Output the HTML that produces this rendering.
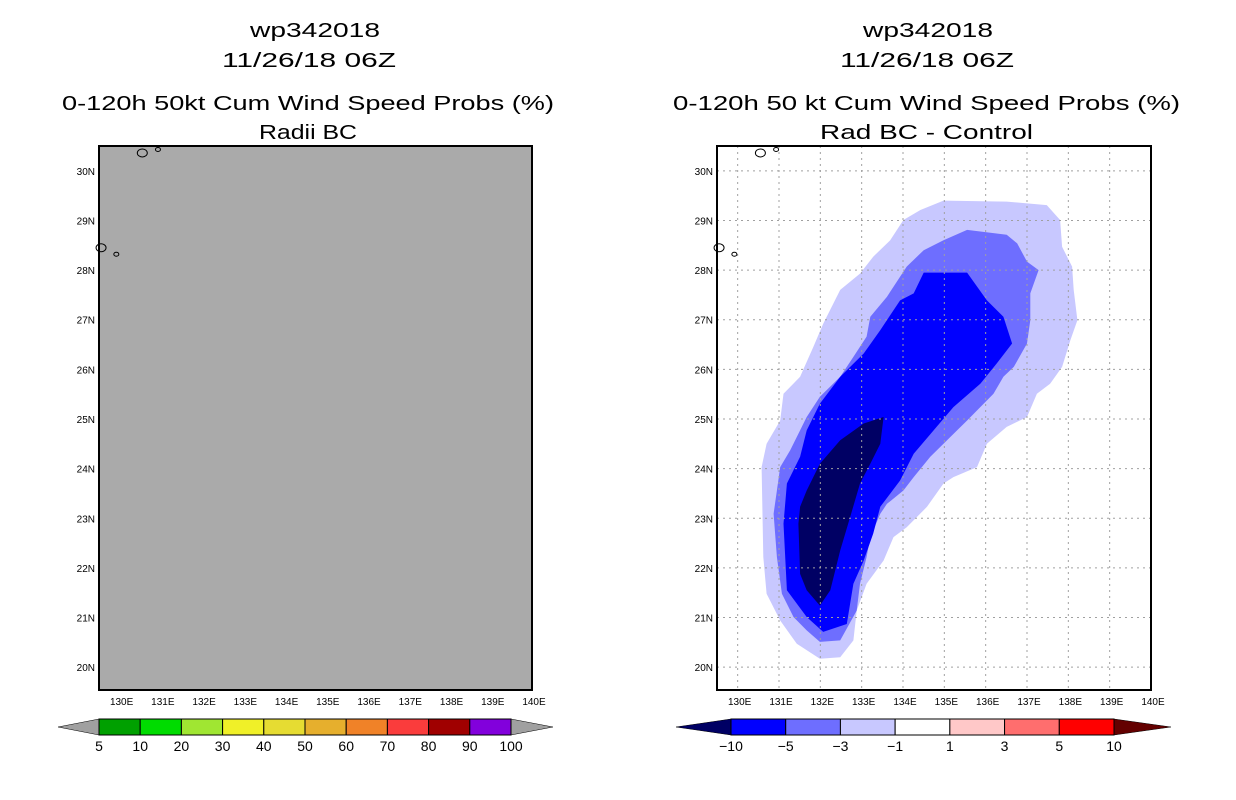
<!DOCTYPE html>
<html><head><meta charset="utf-8">
<style>
html,body{margin:0;padding:0;background:#fff;}
svg{display:block;font-family:"Liberation Sans",sans-serif;}
</style></head>
<body>
<svg id="fig" width="1236" height="800" viewBox="0 0 1236 800" xmlns="http://www.w3.org/2000/svg">
  <rect width="1236" height="800" fill="#fff"/>
  <g font-size="20" fill="#000" lengthAdjust="spacingAndGlyphs">
    <text x="250" y="37" textLength="130" lengthAdjust="spacingAndGlyphs">wp342018</text>
    <text x="222" y="67" textLength="174" lengthAdjust="spacingAndGlyphs">11/26/18 06Z</text>
    <text x="62" y="110" textLength="492" lengthAdjust="spacingAndGlyphs">0-120h 50kt Cum Wind Speed Probs (%)</text>
    <text x="259" y="139" textLength="98" lengthAdjust="spacingAndGlyphs">Radii BC</text>
  </g>
  <g font-size="20" fill="#000">
    <text x="863" y="37" textLength="130" lengthAdjust="spacingAndGlyphs">wp342018</text>
    <text x="840" y="67" textLength="174" lengthAdjust="spacingAndGlyphs">11/26/18 06Z</text>
    <text x="673" y="110" textLength="507" lengthAdjust="spacingAndGlyphs">0-120h 50 kt Cum Wind Speed Probs (%)</text>
    <text x="820" y="139" textLength="213" lengthAdjust="spacingAndGlyphs">Rad BC - Control</text>
  </g>
  <g id="left"></g>
  <g id="right"></g>
  <g id="cbars"></g>
</svg>
<script>
const NS="http://www.w3.org/2000/svg";
const lonTicks=[130,131,132,133,134,135,136,137,138,139,140];
const latTicks=[20,21,22,23,24,25,26,27,28,29,30];
const leftBarLabels=["5","10","20","30","40","50","60","70","80","90","100"];
const leftBarColors=["#00a000","#00dc00","#a0e632","#f0f028","#e6dc32","#e6af2d","#f08228","#fa3c3c","#a00000","#8200dc"];
const rightBarLabels=["-10","-5","-3","-1","1","3","5","10"];
const rightBarColors=["#0000ff","#6e6eff","#c8c8ff","#ffffff","#ffc8c8","#ff6e6e","#ff0000"];
const c1Lon=[134.98,136.51,137.48,137.80,137.85,138.09,138.13,138.22,138.05,137.85,137.56,137.24,137.00,136.51,136.03,135.79,135.22,134.98,134.58,134.09,133.77,133.53,133.12,132.88,132.80,132.48,131.99,131.43,131.03,130.70,130.62,130.58,130.70,131.03,131.11,131.51,131.83,132.07,132.48,132.96,133.28,133.69,134.01,134.42];
const c1Lat=[29.40,29.38,29.31,29.01,28.47,28.07,27.60,26.99,26.59,26.05,25.71,25.51,25.04,24.84,24.50,24.03,23.83,23.70,23.23,22.82,22.62,22.15,21.68,21.14,20.54,20.20,20.17,20.47,20.94,21.48,22.22,24.03,24.50,24.97,25.51,25.85,26.45,26.92,27.60,27.93,28.27,28.60,29.01,29.21];
const c3Lon=[135.55,136.51,136.76,137.00,137.28,137.08,137.08,137.00,136.68,136.43,136.19,135.87,135.55,134.98,134.66,134.26,134.01,133.61,133.45,133.21,133.12,132.96,132.88,132.48,131.99,131.67,131.35,131.07,130.95,130.87,131.03,131.27,131.67,131.99,132.48,132.80,133.12,133.21,133.61,134.09,134.50,134.98];
const c3Lat=[28.81,28.71,28.54,28.17,28.00,27.53,26.99,26.52,26.05,25.85,25.51,25.24,24.97,24.50,24.24,23.83,23.56,23.29,23.09,22.62,22.22,21.68,21.14,20.54,20.51,20.74,21.01,21.48,22.22,23.09,24.03,24.37,25.04,25.45,25.85,26.25,26.66,27.06,27.46,28.07,28.40,28.60];
const c5Lon=[134.50,135.55,136.03,136.43,136.64,136.27,135.87,135.22,134.74,134.26,133.93,133.45,133.28,133.05,132.80,132.64,132.07,131.67,131.19,131.11,131.19,131.51,131.67,131.99,132.48,133.05,133.45,133.93,134.26];
const c5Lat=[27.95,27.95,27.39,27.06,26.52,26.12,25.71,25.24,24.77,24.30,23.76,23.23,22.69,22.15,21.68,20.87,20.71,21.01,21.55,22.89,23.70,24.24,24.77,25.31,25.85,26.32,26.79,27.39,27.53];
const c10Lon=[133.53,133.45,133.21,132.96,132.72,132.48,132.24,131.99,131.67,131.51,131.47,131.51,131.67,131.99,132.48,133.05];
const c10Lat=[25.04,24.50,24.10,23.70,23.02,22.35,21.55,21.24,21.55,21.88,22.89,23.23,23.56,24.10,24.57,24.91];
const islandLon=[130.55,130.93,129.55,129.92];
const islandLat=[30.36,30.43,28.45,28.32];

function el(tag,attrs,parent){const e=document.createElementNS(NS,tag);for(const k in attrs)e.setAttribute(k,attrs[k]);parent.appendChild(e);return e;}
const LON0=129.5,LON1=140,LAT0=19.54,LAT1=30.5,T=146,B=690;
function mkAxis(L,R){return{x:lon=>L+(lon-LON0)/(LON1-LON0)*(R-L),y:lat=>T+(LAT1-lat)/(LAT1-LAT0)*(B-T)};}

function drawMap(g,L,R,isRight){
  const ax=mkAxis(L,R);
  const bg=el('rect',{x:L,y:T,width:R-L,height:B-T,fill:isRight?'#fff':'#aaaaaa'},g);
  
  
  if(isRight){
    const polys=[[c1Lon,c1Lat,'#c8c8ff','contour-minus1'],[c3Lon,c3Lat,'#6e6eff','contour-minus3'],[c5Lon,c5Lat,'#0000ff','contour-minus5'],[c10Lon,c10Lat,'#000064','contour-minus10']];
    polys.forEach(p=>{
      const pts=p[0].map((lo,i)=>ax.x(lo).toFixed(1)+','+ax.y(p[1][i]).toFixed(1)).join(' ');
      const pg=el('polygon',{points:pts,fill:p[2]},g);
      
      
    });
    lonTicks.forEach(lo=>{if(lo>=140)return;const l=el('line',{x1:ax.x(lo),x2:ax.x(lo),y1:T,y2:B,stroke:'#a0a0a0','stroke-dasharray':'2,4'},g);
      
      });
    latTicks.forEach(la=>{const l=el('line',{x1:L,x2:R,y1:ax.y(la),y2:ax.y(la),stroke:'#a0a0a0','stroke-dasharray':'2,4'},g);
      
      });
  }
  islandLon.forEach((lo,i)=>{const r=i%2===0?5:2.5;const e=el('ellipse',{cx:ax.x(lo),cy:ax.y(islandLat[i]),rx:r,ry:r*0.8,fill:'none',stroke:'#000','stroke-width':1},g);
    
    });
  const fr=el('rect',{x:L,y:T,width:R-L,height:B-T,fill:'none',stroke:'#000','stroke-width':2},g);
  
  
  lonTicks.forEach(lo=>{const t=el('text',{x:ax.x(lo)+2,y:705,'font-size':10,'text-anchor':'middle'},g);t.textContent=lo+'E';
    
    });
  latTicks.forEach(la=>{const t=el('text',{x:L-4,y:ax.y(la)+4,'font-size':10,'text-anchor':'end'},g);t.textContent=la+'N';
    
    });
}
drawMap(document.getElementById('left'),99,532,false);
drawMap(document.getElementById('right'),717,1151,true);

function drawBar(g,L,R,tipL,tipR,colors,labels,lc,rc,name){
  const y0=719,y1=735,n=colors.length,w=(R-L)/n;
  const a1=el('polygon',{points:`${tipL},${(y0+y1)/2} ${L},${y0} ${L},${y1}`,fill:lc,stroke:'#000','stroke-width':0.5},g);
  
  
  const a2=el('polygon',{points:`${tipR},${(y0+y1)/2} ${R},${y0} ${R},${y1}`,fill:rc,stroke:'#000','stroke-width':0.5},g);
  
  
  colors.forEach((c,i)=>{const r=el('rect',{x:L+i*w,y:y0,width:w,height:y1-y0,fill:c,stroke:'#000','stroke-width':1},g);
    
    });
  labels.forEach((s,i)=>{const t=el('text',{x:L+i*w,y:751,'font-size':14,'text-anchor':'middle'},g);t.textContent=s.replace('-','\u2212');
    
    });
}
const cb=document.getElementById('cbars');
drawBar(cb,99,511,58,553,leftBarColors,leftBarLabels,'#a0a0a0','#a0a0a0','left-colorbar');
drawBar(cb,731,1114,676,1171,rightBarColors,rightBarLabels,'#000064','#640000','right-colorbar');
</script>
</body></html>
